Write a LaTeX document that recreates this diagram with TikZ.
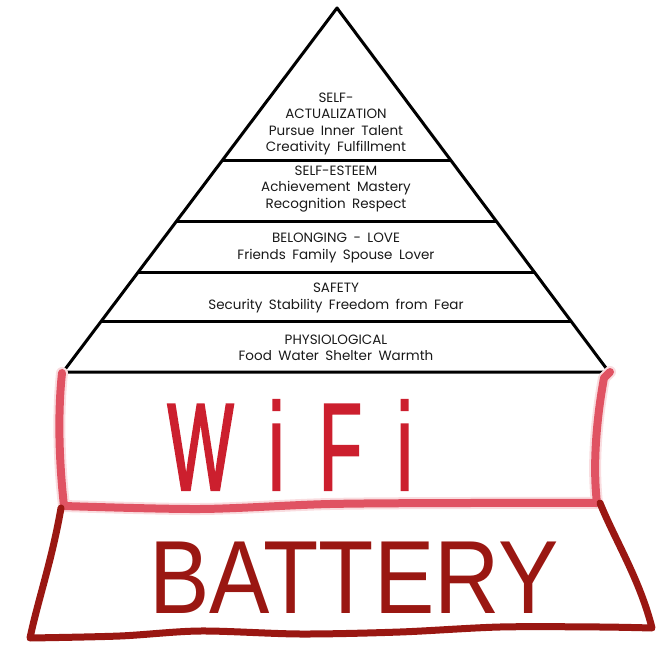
\documentclass[tikz,border=0pt]{standalone}
\usepackage{fontspec}
\usetikzlibrary{calc}
\newfontfamily\pyrfont[WordSpace=1.8]{Poppins}
\newfontfamily\wififont[FakeStretch=0.56,LetterSpace=28,FakeBold=1.5]{Liberation Sans}
\newfontfamily\batfont[FakeStretch=0.87]{Liberation Sans}
\definecolor{wifipink}{HTML}{E05363}
\definecolor{wifired}{HTML}{CC1F2E}
\definecolor{batred}{HTML}{9A1712}
\tikzset{
    mh edge/.style={draw=black, line width=3pt, line join=round},
    mh label/.style={align=center, inner sep=0pt, text=black!90,
                     font=\pyrfont\fontsize{13.5}{16.5}\selectfont},
    mh wifi/.style={draw=wifipink, line width=8pt,
                    line cap=round, line join=round},
    mh glow/.style={draw=wifipink!20, line width=12pt,
                    line cap=round, line join=round},
    mh battery/.style={draw=batred, line width=7pt,
                       line cap=round, line join=round},
    mh hand/.style={inner sep=0pt},
}

\begin{document}
\begin{tikzpicture}[x=1pt, y=-1pt]
    \useasboundingbox (0,0) rectangle (662,650);
    % Pyramid outline
    \coordinate (apex) at (337,8);
    \coordinate (bl) at (63,372);
    \coordinate (br) at (609,372);
    \draw[mh edge] (apex) -- (bl) -- (br) -- cycle;
    % Layer dividers
    \foreach \t in {0.4176, 0.5879, 0.7253, 0.8626}
        \draw[mh edge] ($(apex)!\t!(bl)$) -- ($(apex)!\t!(br)$);
    % Layer labels, top to bottom
    \node[mh label] (selfact) at (336,124)
        {SELF-\\ACTUALIZATION\\Pursue Inner Talent\\Creativity Fulfillment};
    \node[mh label] (esteem) at (336,189)
        {SELF-ESTEEM\\Achievement Mastery\\Recognition Respect};
    \node[mh label] (belong) at (336,248)
        {BELONGING - LOVE\\Friends Family Spouse Lover};
    \node[mh label] (safety) at (336,298)
        {SAFETY\\Security Stability Freedom from Fear};
    \node[mh label] (physio) at (336,348)
        {PHYSIOLOGICAL\\Food Water Shelter Warmth};
    % WiFi box under the pyramid
    \draw[mh glow] (62,373) .. controls (57,420) and (60,470) .. (64,506)
        -- plot[smooth] coordinates {(64,506) (200,509) (330,504) (470,503) (597,503)}
        .. controls (592,460) and (598,410) .. (604,378) -- (610,372);
    \draw[mh wifi] (62,373) .. controls (57,420) and (60,470) .. (64,506)
        -- plot[smooth] coordinates {(64,506) (200,509) (330,504) (470,503) (597,503)}
        .. controls (592,460) and (598,410) .. (604,378) -- (610,372);
    \node[mh hand, text=wifired, font=\wififont\fontsize{125}{125}\selectfont]
        (wifi) at (290,445) {WiFi};
    % Battery box at the bottom
    \draw[mh battery] (61,508) .. controls (52,560) and (38,600) .. (30,638)
        -- plot[smooth] coordinates {(30,638) (120,636) (200,631) (300,634) (400,632) (500,627) (600,627) (652,628)}
        .. controls (640,580) and (615,540) .. (600,503);
    \node[mh hand, text=batred, font=\batfont\fontsize{104}{104}\selectfont]
        (battery) at (354,578) {BATTERY};
\end{tikzpicture}
\end{document}
